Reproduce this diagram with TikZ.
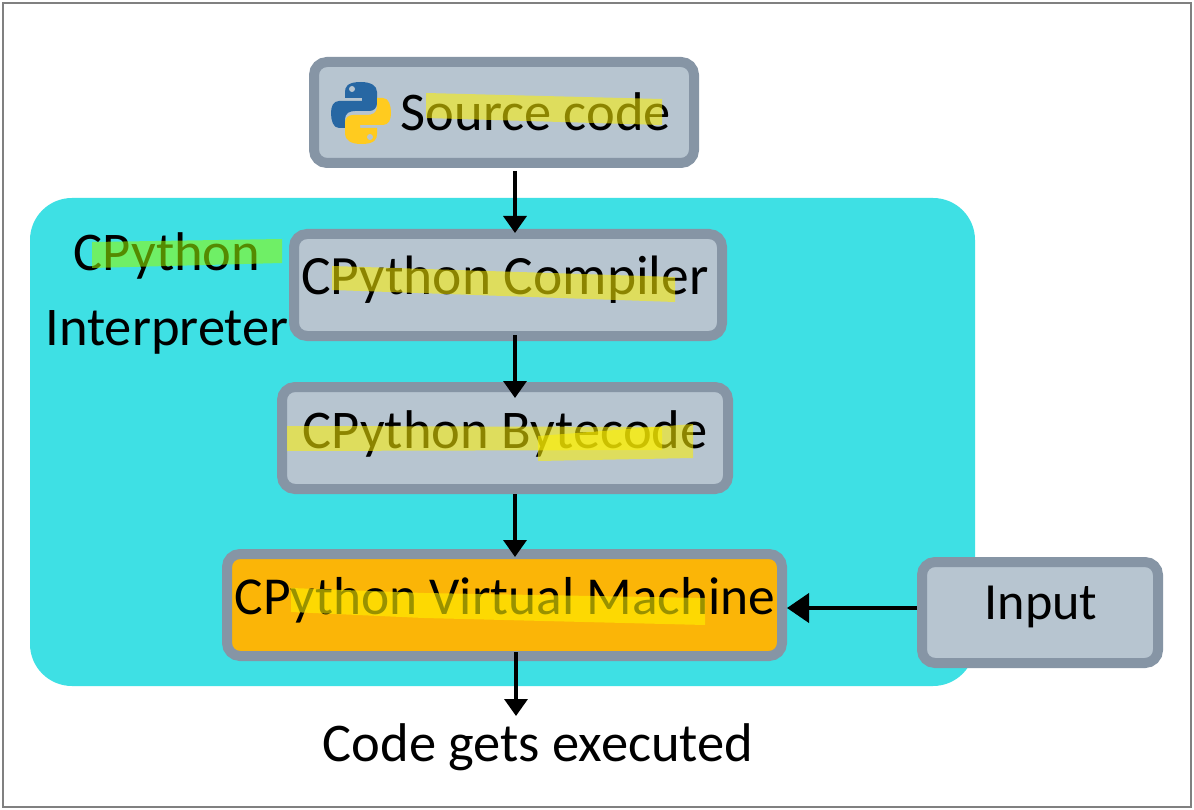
\documentclass[tikz,border=0pt]{standalone}
\usepackage{fontspec}
\usetikzlibrary{arrows.meta}
\setmainfont{Carlito}
\definecolor{cyanpanel}{HTML}{3EE0E4}
\definecolor{boxfill}{HTML}{B7C5D0}
\definecolor{boxline}{HTML}{8695A5}
\definecolor{vmfill}{HTML}{FBB507}
\definecolor{markgreen}{HTML}{99FD00}
\definecolor{logoblue}{HTML}{2767A3}
\definecolor{logoyellow}{HTML}{FFCB1F}
\tikzset{
  stagebox/.style={draw=boxline,fill=boxfill,line width=10pt,rounded corners=13pt,inner sep=0pt,outer sep=5pt},
  plainlabel/.style={inner sep=0pt,font=\fontsize{54.5}{60}\selectfont},
  flowarrow/.style={line width=3.5pt,-{Triangle[length=17pt,width=23pt]}},
  inputarrow/.style={line width=4pt,-{Triangle[length=22pt,width=29pt]}},
  marker/.style={fill=yellow,opacity=.55}
}
\begin{document}
\begin{tikzpicture}[x=1pt,y=-1pt]
\path[use as bounding box] (0,0) rectangle (1194,810);
\fill[white] (0,0) rectangle (1194,810);
\draw[black!50,line width=2pt] (3,3) rectangle (1191,807);
\fill[cyanpanel,rounded corners=42pt] (30,198) rectangle (975,686);
\node[stagebox,minimum width=380pt,minimum height=101pt] (source) at (504,112.5) {};
\node[stagebox,minimum width=428pt,minimum height=102pt] (compiler) at (508,285) {};
\node[stagebox,minimum width=446pt,minimum height=102pt] (bytecode) at (505,438) {};
\node[stagebox,fill=vmfill,minimum width=555pt,minimum height=102pt] (vm) at (504.5,605) {};
\node[stagebox,minimum width=236pt,minimum height=101pt] (input) at (1040,612.5) {};
\node[plainlabel] (sourcetext) at (536,112) {Source code};
\node[plainlabel,font=\fontsize{55.5}{60}\selectfont] (compilertext) at (505,280) {CPython Compiler};
\node[plainlabel] (bytecodetext) at (505,434) {CPython Bytecode};
\node[plainlabel,font=\fontsize{53.4}{60}\selectfont] (vmtext) at (505,600) {CPython Virtual Machine};
\node[plainlabel,font=\fontsize{52.2}{60}\selectfont] (inputtext) at (1041,607) {Input};
\node[plainlabel] (cpython) at (167,256) {CPython};
\node[plainlabel] (interp) at (167,332) {Interpreter};
\node[plainlabel] (executed) at (538,747) {Code gets executed};
% logo
\begin{scope}[shift={(331,82)}]
\fill[logoblue] (30,0) .. controls (16,0) and (14,5) .. (14,10) -- (14,16) -- (31,16) -- (31,19) -- (8,19) .. controls (2,19) and (0,25) .. (0,31) .. controls (0,38) and (2,46) .. (8,46) -- (14,46) -- (14,37) .. controls (14,31) and (19,29) .. (24,29) -- (38,29) .. controls (43,29) and (46,26) .. (46,21) -- (46,10) .. controls (46,4) and (40,0) .. (30,0) -- cycle;
\fill[logoyellow] (30,62) .. controls (44,62) and (46,57) .. (46,52) -- (46,46) -- (29,46) -- (29,43) -- (52,43) .. controls (58,43) and (60,37) .. (60,31) .. controls (60,24) and (58,16) .. (52,16) -- (46,16) -- (46,25) .. controls (46,31) and (41,33) .. (36,33) -- (22,33) .. controls (17,33) and (14,36) .. (14,41) -- (14,52) .. controls (14,58) and (20,62) .. (30,62) -- cycle;
\fill[boxfill] (21,7) circle[radius=3];
\fill[boxfill] (39,55) circle[radius=3];
\end{scope}
% markers
\fill[marker] (426,93)--(662,99)--(662,125)--(426,118)--cycle;
\fill[marker] (332,266)--(675,277)--(675,302)--(332,290)--cycle;
\fill[marker] (287,426)--(662,427)--(662,450)--(287,451)--cycle;
\fill[marker] (538,436)--(693,424)--(693,458)--(538,461)--cycle;
\fill[yellow,opacity=.6] (291,588)--(424,593)--(705,598)--(705,625)--(424,618)--(291,612)--cycle;
\fill[marker,fill=markgreen] (92,242)--(282,239)--(282,263)--(92,268)--cycle;
% arrows
\coordinate (flow) at (515,0);
\coordinate (flowend) at (516,716);
\draw[flowarrow] ([yshift=-3pt]flow |- source.south) -- ([yshift=-4pt]flow |- compiler.north);
\draw[flowarrow] ([yshift=6pt]flow |- compiler.south) -- ([yshift=-16pt]flow |- bytecode.north);
\draw[flowarrow] (flow |- bytecode.south) -- ([yshift=-8pt]flow |- vm.north);
\draw[flowarrow] ([yshift=9pt]flowend |- vm.south) -- (flowend);
\draw[inputarrow] (input.west |- 0,608) -- (vm.east |- 0,608);
\end{tikzpicture}
\end{document}
